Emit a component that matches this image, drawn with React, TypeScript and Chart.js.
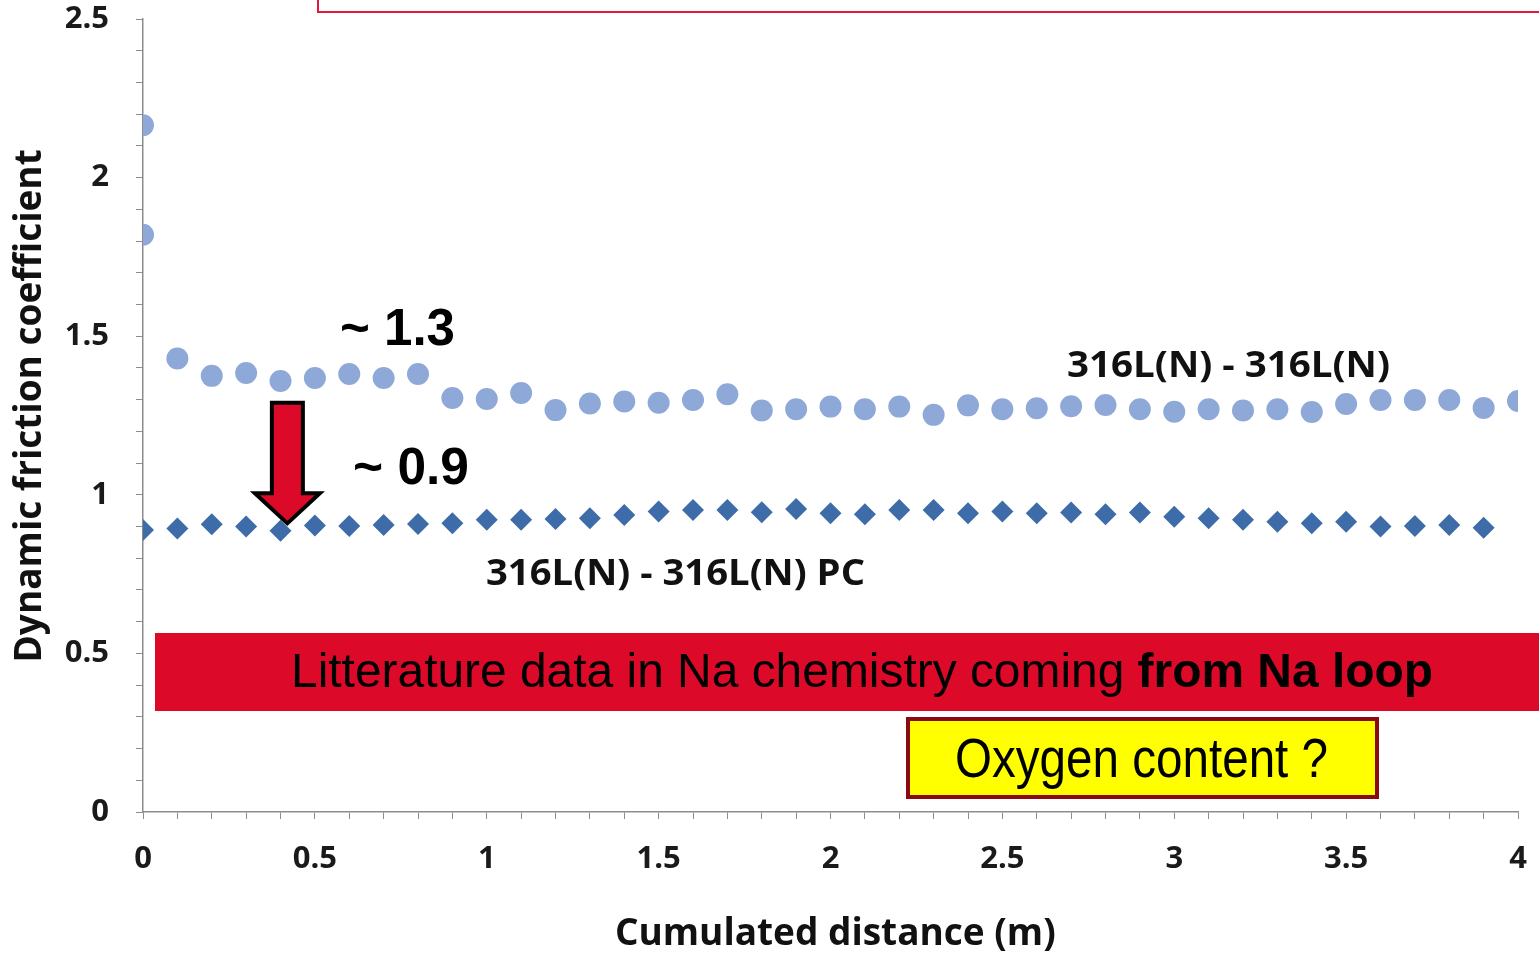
import React, { useEffect, useRef } from "react";
import { Chart, registerables } from "chart.js";

Chart.register(...registerables);

// Series: 316L(N) - 316L(N) (light blue circles)
const circleX = [0, 0, 0.1, 0.2, 0.3, 0.4, 0.5, 0.6, 0.7, 0.8, 0.9, 1.0, 1.1, 1.2, 1.3, 1.4, 1.5, 1.6, 1.7, 1.8, 1.9, 2.0, 2.1, 2.2, 2.3, 2.4, 2.5, 2.6, 2.7, 2.8, 2.9, 3.0, 3.1, 3.2, 3.3, 3.4, 3.5, 3.6, 3.7, 3.8, 3.9, 4.0];
const circleY = [2.165, 1.82, 1.43, 1.375, 1.384, 1.359, 1.368, 1.381, 1.368, 1.381, 1.305, 1.302, 1.321, 1.267, 1.288, 1.294, 1.29, 1.299, 1.317, 1.266, 1.27, 1.278, 1.27, 1.278, 1.252, 1.282, 1.27, 1.273, 1.279, 1.283, 1.27, 1.262, 1.27, 1.266, 1.27, 1.261, 1.286, 1.299, 1.299, 1.299, 1.274, 1.296];

// Series: 316L(N) - 316L(N) PC (dark blue diamonds)
const diamondX = [0, 0.1, 0.2, 0.3, 0.4, 0.5, 0.6, 0.7, 0.8, 0.9, 1.0, 1.1, 1.2, 1.3, 1.4, 1.5, 1.6, 1.7, 1.8, 1.9, 2.0, 2.1, 2.2, 2.3, 2.4, 2.5, 2.6, 2.7, 2.8, 2.9, 3.0, 3.1, 3.2, 3.3, 3.4, 3.5, 3.6, 3.7, 3.8, 3.9];
const diamondY = [0.889, 0.894, 0.907, 0.9, 0.887, 0.903, 0.902, 0.905, 0.908, 0.91, 0.921, 0.921, 0.924, 0.926, 0.936, 0.947, 0.952, 0.952, 0.945, 0.955, 0.942, 0.939, 0.952, 0.952, 0.942, 0.947, 0.942, 0.944, 0.939, 0.944, 0.931, 0.926, 0.921, 0.915, 0.91, 0.915, 0.9, 0.902, 0.905, 0.896];

const xAxisTitle = "Cumulated distance (m)";
const yAxisTitle = "Dynamic friction coefficient";
const circleLabel = "316L(N) - 316L(N)";
const diamondLabel = "316L(N) - 316L(N) PC";
const highValueNote = "~ 1.3";
const lowValueNote = "~ 0.9";
const bannerRegular = "Litterature data in Na chemistry coming ";
const bannerBold = "from Na loop";
const questionNote = "Oxygen content ?";

const AXIS_GRAY = "#8c8c8c";
const TICK_COLOR = "#1a1a1a";
const RED = "#DC0A28";

function fmtTick(v: number): string {
  const r = Math.round(v * 10) / 10;
  if (Math.abs(r * 2 - Math.round(r * 2)) > 1e-6) return "";
  return String(r);
}

function stretchText(
  ctx: CanvasRenderingContext2D,
  text: string,
  x: number,
  y: number,
  font: string,
  targetW: number,
  color: string
) {
  ctx.save();
  ctx.font = font;
  const w = ctx.measureText(text).width;
  const s = targetW / w;
  ctx.translate(x, y);
  ctx.scale(s, 1);
  ctx.fillStyle = color;
  ctx.textAlign = "left";
  ctx.textBaseline = "alphabetic";
  ctx.fillText(text, 0, 0);
  ctx.restore();
}

const annotationPlugin = {
  id: "annotations",
  afterDraw(chart: any) {
    const ctx: CanvasRenderingContext2D = chart.ctx;
    const xs = chart.scales.x;
    const ys = chart.scales.y;

    // top red framed box (cut off)
    ctx.save();
    ctx.strokeStyle = "#E3193A";
    ctx.lineWidth = 2;
    ctx.strokeRect(318, -20, 1300, 32);
    ctx.restore();

    // value notes
    stretchText(ctx, highValueNote, 340, 345, "bold 52px 'Liberation Sans', Arial", 115, "#000");
    stretchText(ctx, lowValueNote, 353, 484, "bold 52px 'Liberation Sans', Arial", 116, "#000");

    // series labels
    stretchText(ctx, circleLabel, 1067, 377, "bold 35px 'Open Sans'", 323, "#111");
    stretchText(ctx, diamondLabel, 486, 585, "bold 35px 'Open Sans'", 379, "#111");

    // red down arrow (from ~1.3 to ~0.9)
    const ax = xs.getPixelForValue(0.42);
    const topY = ys.getPixelForValue(1.29);
    const headY = ys.getPixelForValue(1.005);
    const tipY = ys.getPixelForValue(0.91);
    const shaftHalf = 15.5;
    const headHalf = 32.5;
    ctx.save();
    ctx.beginPath();
    ctx.moveTo(ax - shaftHalf, topY);
    ctx.lineTo(ax + shaftHalf, topY);
    ctx.lineTo(ax + shaftHalf, headY);
    ctx.lineTo(ax + headHalf, headY);
    ctx.lineTo(ax, tipY);
    ctx.lineTo(ax - headHalf, headY);
    ctx.lineTo(ax - shaftHalf, headY);
    ctx.closePath();
    ctx.fillStyle = RED;
    ctx.fill();
    ctx.lineWidth = 4;
    ctx.lineJoin = "miter";
    ctx.strokeStyle = "#000";
    ctx.stroke();
    ctx.restore();

    // red banner
    ctx.save();
    ctx.fillStyle = RED;
    ctx.fillRect(155, 633, 1400, 78);
    ctx.font = "48px 'Liberation Sans', Arial";
    const wReg = ctx.measureText(bannerRegular).width;
    ctx.font = "bold 48px 'Liberation Sans', Arial";
    const wBold = ctx.measureText(bannerBold).width;
    const s = 1142 / (wReg + wBold);
    ctx.translate(291, 687);
    ctx.scale(s, 1);
    ctx.fillStyle = "#000";
    ctx.textBaseline = "alphabetic";
    ctx.textAlign = "left";
    ctx.font = "48px 'Liberation Sans', Arial";
    ctx.fillText(bannerRegular, 0, 0);
    ctx.font = "bold 48px 'Liberation Sans', Arial";
    ctx.fillText(bannerBold, wReg, 0);
    ctx.restore();

    // yellow question box
    ctx.save();
    ctx.fillStyle = "#FFFF00";
    ctx.fillRect(908, 719, 469, 78);
    ctx.strokeStyle = "#8A0A12";
    ctx.lineWidth = 4;
    ctx.strokeRect(908, 719, 469, 78);
    ctx.restore();
    stretchText(ctx, questionNote, 955, 777, "56px 'Liberation Sans Narrow', 'Liberation Sans', Arial", 373, "#000");
  },
};

export default function App() {
  const ref = useRef<HTMLCanvasElement | null>(null);

  useEffect(() => {
    if (!ref.current) return;
    const chart = new Chart(ref.current, {
      type: "scatter",
      data: {
        datasets: [
          {
            label: circleLabel,
            data: circleX.map((x, i) => ({ x, y: circleY[i] })),
            pointStyle: "circle",
            pointRadius: 11,
            pointBackgroundColor: "#8EA9D8",
            pointBorderWidth: 0,
            showLine: false,
          },
          {
            label: diamondLabel,
            data: diamondX.map((x, i) => ({ x, y: diamondY[i] })),
            pointStyle: "rectRot",
            pointRadius: 11,
            pointBackgroundColor: "#3D6CA8",
            pointBorderWidth: 0,
            showLine: false,
          },
        ],
      },
      options: {
        responsive: false,
        animation: false,
        devicePixelRatio: 1,
        layout: { padding: { top: 19, right: 21, left: 0, bottom: 0 } },
        plugins: {
          legend: { display: false },
          tooltip: { enabled: false },
        },
        scales: {
          x: {
            type: "linear",
            position: "bottom",
            min: 0,
            max: 4,
            afterFit: (scale: any) => {
              scale.height = 143;
              scale.paddingLeft = 0;
              scale.paddingRight = 0;
              scale.paddingTop = 0;
              scale.paddingBottom = 0;
            },
            ticks: {
              stepSize: 0.1,
              autoSkip: false,
              maxRotation: 0,
              padding: 22,
              color: TICK_COLOR,
              font: { family: "'Open Sans'", size: 31, weight: "bold" },
              callback: (v: any) => fmtTick(Number(v)),
            },
            grid: {
              drawOnChartArea: false,
              drawTicks: true,
              tickLength: 7,
              color: AXIS_GRAY,
              lineWidth: 1,
            },
            border: { display: true, color: AXIS_GRAY, width: 1.5 },
            title: {
              display: true,
              text: " " + xAxisTitle,
              color: "#111",
              font: { family: "'Open Sans'", size: 37, weight: "bold", lineHeight: 1 },
              padding: { top: 0, bottom: 2 },
            },
          },
          y: {
            type: "linear",
            position: "left",
            min: 0,
            max: 2.5,
            afterFit: (scale: any) => {
              scale.width = 143;
              scale.paddingLeft = 0;
              scale.paddingRight = 0;
              scale.paddingTop = 0;
              scale.paddingBottom = 0;
            },
            ticks: {
              stepSize: 0.1,
              autoSkip: false,
              padding: 27,
              color: TICK_COLOR,
              font: { family: "'Open Sans'", size: 31, weight: "bold" },
              callback: (v: any) => fmtTick(Number(v)),
            },
            grid: {
              drawOnChartArea: false,
              drawTicks: true,
              tickLength: 7,
              color: AXIS_GRAY,
              lineWidth: 1,
            },
            border: { display: true, color: AXIS_GRAY, width: 1.5 },
            title: {
              display: true,
              text: "  " + yAxisTitle,
              color: "#111",
              font: { family: "'Open Sans'", size: 37, weight: "bold", lineHeight: 1 },
              padding: { top: 12, bottom: 0 },
            },
          },
        },
      },
      plugins: [annotationPlugin],
    } as any);
    return () => chart.destroy();
  }, []);

  return (
    <div style={{ position: "fixed", left: 0, top: 0, width: 1539, height: 955, background: "#fff" }}>
      <canvas ref={ref} width={1539} height={955} style={{ display: "block" }} />
    </div>
  );
}
